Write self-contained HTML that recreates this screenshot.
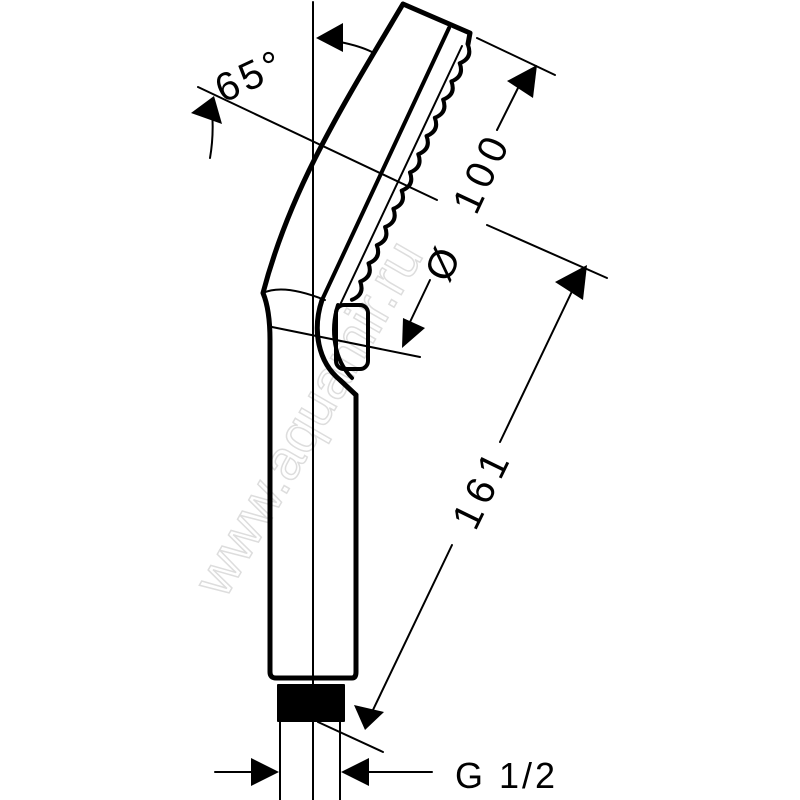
<!DOCTYPE html>
<html><head><style>html,body{margin:0;padding:0;background:#fff}svg{display:block}</style></head>
<body>
<svg width="800" height="800" viewBox="0 0 800 800" xmlns="http://www.w3.org/2000/svg" font-family="Liberation Sans, DejaVu Sans, sans-serif">
<rect width="800" height="800" fill="#fff"/>
<text x="0" y="0" transform="translate(225,600) rotate(-60)" font-size="56" fill="none" stroke="#ddd" stroke-width="1.5">www.aquamir.ru</text>
<g stroke="#000" fill="none" stroke-linecap="round" stroke-linejoin="round">
<line x1="313" y1="2" x2="313" y2="800" stroke-width="2"/>
<path d="M403,4 L470,33 L468,44 M403,4 C340,110 290,190 263,293 C268,305 270,320 270,340 L270,672 Q270,678 276,678 L352,678 Q356,678 356,672 L356,395" stroke-width="5"/>
<path d="M449,28 L322,300" stroke-width="4"/>
<path d="M462,46 L340,305" stroke-width="2"/>
<path d="M468,45 q4.86,13.1 -8.29,18.2 q4.86,13.1 -8.29,18.2 q4.86,13.1 -8.29,18.2 q4.86,13.1 -8.29,18.2 q4.86,13.1 -8.29,18.2 q4.86,13.1 -8.29,18.2 q4.86,13.1 -8.29,18.2 q4.86,13.1 -8.29,18.2 q4.86,13.1 -8.29,18.2 q4.86,13.1 -8.29,18.2 q4.86,13.1 -8.29,18.2 q4.86,13.1 -8.29,18.2 q4.86,13.1 -8.29,18.2 q4.86,13.1 -8.29,18.2" stroke-width="4"/>
<path d="M322,300 C312,330 318,362 340,380 L356,395" stroke-width="5"/>
<path d="M338,305 C330,330 334,360 352,378" stroke-width="4"/>
<rect x="336" y="305" width="32" height="64" rx="8" stroke-width="4"/>
<path d="M263,293 C280,285 305,292 325,300" stroke-width="2"/>
<line x1="272" y1="327" x2="420" y2="357" stroke-width="2"/>
<rect x="278" y="685" width="66" height="36" fill="#000" stroke-width="2"/>
<line x1="280" y1="722" x2="280" y2="800" stroke-width="2"/>
<line x1="340" y1="722" x2="340" y2="800" stroke-width="2"/>
<line x1="318" y1="722" x2="383" y2="752" stroke-width="2"/>
<line x1="198" y1="87" x2="437" y2="200" stroke-width="2"/>
<path d="M210,158 Q214,135 212,110" stroke-width="2"/>
<path d="M340,42 Q360,46 372,52" stroke-width="2"/>
<line x1="477" y1="38" x2="555" y2="75" stroke-width="2"/>
<line x1="487" y1="225" x2="607" y2="278" stroke-width="2"/>
<line x1="522" y1="80" x2="497" y2="130" stroke-width="2"/>
<line x1="430" y1="280" x2="410" y2="322" stroke-width="2"/>
<line x1="575" y1="285" x2="500" y2="442" stroke-width="2"/>
<line x1="452" y1="545" x2="372" y2="712" stroke-width="2"/>
<line x1="215" y1="772" x2="260" y2="772" stroke-width="2"/>
<line x1="360" y1="772" x2="432" y2="772" stroke-width="2"/>
</g>
<g fill="#000">
<polygon points="191,113 214,96 222,124"/>
<polygon points="316,38 343,23 343,52"/>
<polygon points="537,65 507,81 533,98"/>
<polygon points="402,348 425,328 403,318"/>
<polygon points="587,265 555,282 583,300"/>
<polygon points="365,730 354,705 384,712"/>
<polygon points="279,772 251,758 251,786"/>
<polygon points="341,772 369,758 369,786"/>
</g>
<g fill="#000" font-size="40">
<text transform="translate(256,88) rotate(-25)" text-anchor="middle" letter-spacing="4">65°</text>
<text transform="translate(455,270) rotate(-65)" text-anchor="middle">Ø</text>
<text transform="translate(494,178) rotate(-65)" text-anchor="middle" letter-spacing="6">100</text>
<text transform="translate(494,494) rotate(-64)" text-anchor="middle" letter-spacing="6">161</text>
<text x="455" y="788" font-size="36" letter-spacing="3">G 1/2</text>
</g>
</svg>
</body></html>
